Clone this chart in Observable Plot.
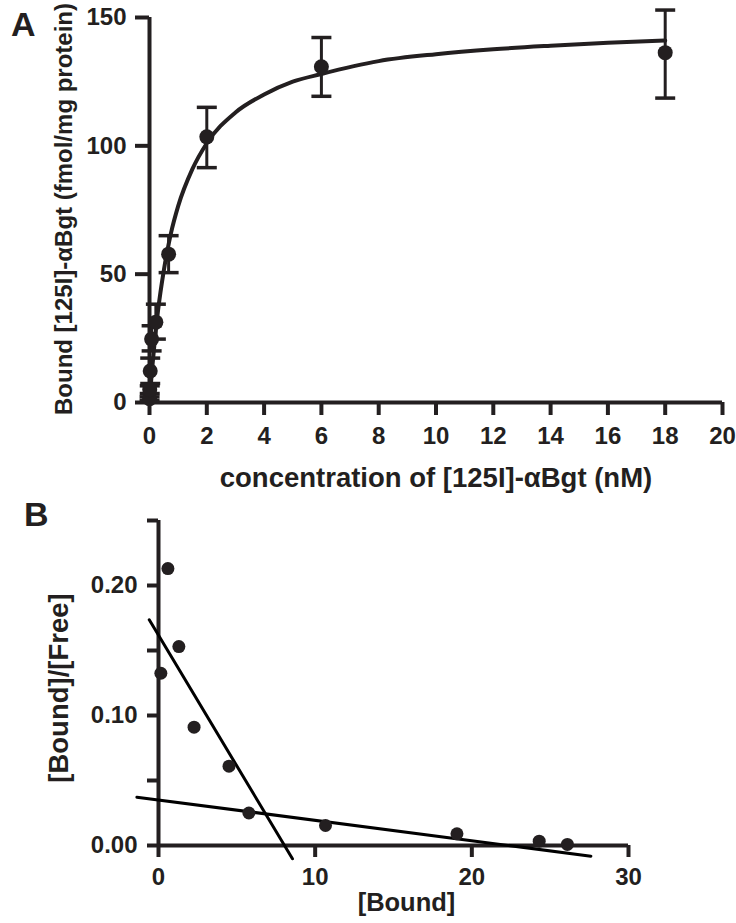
<!DOCTYPE html>
<html>
<head>
<meta charset="utf-8">
<script src="https://cdn.jsdelivr.net/npm/d3@7"></script>
<script src="https://cdn.jsdelivr.net/npm/@observablehq/plot@0.6"></script>
<style>
  html, body { margin: 0; padding: 0; background: #fff; }
  #wrap { position: relative; width: 736px; height: 923px; overflow: hidden; font-family: "Liberation Sans", Arial, sans-serif; }
  .panel { position: absolute; left: 0; }
  .letter { position: absolute; font-weight: bold; font-size: 34px; color: #231f20; line-height: 1; }
</style>
</head>
<body>
<div id="wrap">
  <div class="letter" id="la" style="left:11px; top:7px;">A</div>
  <div class="letter" id="lb" style="left:24px; top:497px;">B</div>
  <div class="panel" id="pa" style="top:0px;"></div>
  <div class="panel" id="pb" style="top:497px;"></div>
</div>
<script>
// ---------- Panel A: saturation binding ----------
const concA  = [0.0027, 0.0082, 0.025, 0.074, 0.222, 0.667, 2, 6, 18];
const boundA = [1.5, 5, 12.3, 24.7, 31.3, 57.8, 103.5, 130.8, 136.3];
const errLoA = [0.8, 3.5, 7.4, 20.1, 24.7, 50.6, 91.5, 119.3, 118.6];
const errHiA = [2.2, 6.5, 17.3, 29.9, 38.3, 65.0, 115.0, 142.2, 152.9];
const fitXA  = [0, 0.05, 0.1, 0.2, 0.3, 0.5, 0.75, 1, 1.5, 2, 3, 4, 5, 6, 8, 10, 12, 14, 16, 18];
const fitYA  = [0, 7.5, 14, 26, 36, 51.5, 66, 76.5, 91, 101, 113, 120, 125, 128, 133, 135.7, 137.6, 139, 140.2, 141];
const xTicksA = [0, 2, 4, 6, 8, 10, 12, 14, 16, 18, 20];
const yTicksA = [0, 50, 100, 150];
const xLabelA = "concentration of [125I]-\u03B1Bgt (nM)";
const yLabelA = "Bound [125I]-\u03B1Bgt (fmol/mg protein)";

// ---------- Panel B: Scatchard ----------
const boundB = [0.15, 0.6, 1.3, 2.27, 4.5, 5.77, 10.66, 19.05, 24.3, 26.1];
const ratioB = [0.1325, 0.213, 0.153, 0.091, 0.061, 0.025, 0.0154, 0.009, 0.0033, 0.0008];
const line1X = [-0.59, 8.55];
const line1Y = [0.1736, -0.0102];
const line2X = [-1.38, 27.6];
const line2Y = [0.0372, -0.0082];
const xTicksB = [0, 10, 20, 30];
const yTicksB = [0, 0.05, 0.10, 0.15, 0.20, 0.25];
const yTickLabelsB = ["0.00", "", "0.10", "", "0.20", ""];
const xLabelB = "[Bound]";
const yLabelB = "[Bound]/[Free]";

const ink = "#231f20";
const font = "'Liberation Sans', Arial, sans-serif";

const pointsA = concA.map((c, i) => ({x: c, y: boundA[i], lo: errLoA[i], hi: errHiA[i]}));
const fitA = fitXA.map((x, i) => ({x, y: fitYA[i]}));
const pointsB = boundB.map((b, i) => ({x: b, y: ratioB[i]}));
const seg1 = line1X.map((x, i) => ({x, y: line1Y[i]}));
const seg2 = line2X.map((x, i) => ({x, y: line2Y[i]}));

const capSymbol = {
  draw(ctx, size) {
    const w = Math.sqrt(size / Math.PI);
    ctx.moveTo(-w, 0);
    ctx.lineTo(w, 0);
  }
};

const plotA = Plot.plot({
  width: 736,
  height: 497,
  marginLeft: 149,
  marginRight: 14,
  marginTop: 17,
  marginBottom: 95,
  style: {fontFamily: font, fontWeight: "bold", color: ink, background: "transparent"},
  x: {domain: [0, 20]},
  y: {domain: [0, 150]},
  marks: [
    Plot.ruleX([0], {y1: 0, y2: 150, stroke: ink, strokeWidth: 4}),
    Plot.ruleY([0], {x1: 0, x2: 20, stroke: ink, strokeWidth: 4}),
    Plot.axisX({ticks: xTicksA, tickSize: 13, tickPadding: 11, strokeWidth: 4, stroke: ink, fontSize: 24, label: null, tickFormat: d => d}),
    Plot.axisY({ticks: yTicksA, tickSize: 14, tickPadding: 9, strokeWidth: 4, stroke: ink, fontSize: 24, label: null, tickFormat: d => d}),
    Plot.line(fitA, {x: "x", y: "y", curve: "monotone-x", stroke: ink, strokeWidth: 4}),
    Plot.ruleX(pointsA, {x: "x", y1: "lo", y2: "hi", stroke: ink, strokeWidth: 3}),
    Plot.dot(pointsA, {x: "x", y: "lo", symbol: capSymbol, r: 10, stroke: ink, strokeWidth: 3.5}),
    Plot.dot(pointsA, {x: "x", y: "hi", symbol: capSymbol, r: 10, stroke: ink, strokeWidth: 3.5}),
    Plot.dot(pointsA, {x: "x", y: "y", r: 7.5, fill: ink, stroke: null}),
    Plot.text([xLabelA], {frameAnchor: "bottom", text: d => d, dy: 76, fontSize: 27.5, fill: ink, textAnchor: "middle", lineAnchor: "middle"}),
    Plot.text([yLabelA], {frameAnchor: "left", text: d => d, dx: -85, dy: -1, rotate: -90, fontSize: 24, fill: ink, textAnchor: "middle", lineAnchor: "middle"})
  ]
});

const plotB = Plot.plot({
  width: 736,
  height: 426,
  marginLeft: 158,
  marginRight: 108,
  marginTop: 23,
  marginBottom: 78,
  style: {fontFamily: font, fontWeight: "bold", color: ink, background: "transparent"},
  x: {domain: [0, 30]},
  y: {domain: [0, 0.25]},
  marks: [
    Plot.ruleX([0], {y1: 0, y2: 0.25, stroke: ink, strokeWidth: 4}),
    Plot.ruleY([0], {x1: 0, x2: 30, stroke: ink, strokeWidth: 4}),
    Plot.axisX({ticks: xTicksB, tickSize: 12, tickPadding: 10, strokeWidth: 4, stroke: ink, fontSize: 24, label: null, tickFormat: d => d}),
    Plot.axisY({ticks: yTicksB, tickSize: 11, tickPadding: 10, strokeWidth: 4, stroke: ink, fontSize: 24, label: null,
      tickFormat: d => yTickLabelsB[yTicksB.findIndex(t => Math.abs(t - d) < 1e-9)]}),
    Plot.line(seg1, {x: "x", y: "y", stroke: "#000", strokeWidth: 3}),
    Plot.line(seg2, {x: "x", y: "y", stroke: "#000", strokeWidth: 3}),
    Plot.dot(pointsB, {x: "x", y: "y", r: 6.5, fill: ink, stroke: null}),
    Plot.text([xLabelB], {frameAnchor: "bottom", text: d => d, dx: 13, dy: 57, fontSize: 25.5, fill: ink, textAnchor: "middle", lineAnchor: "middle"}),
    Plot.text([yLabelB], {frameAnchor: "left", text: d => d, dx: -99, dy: 5, rotate: -90, fontSize: 27.5, fill: ink, textAnchor: "middle", lineAnchor: "middle"})
  ]
});

document.getElementById("pa").appendChild(plotA);
document.getElementById("pb").appendChild(plotB);
</script>
</body>
</html>
